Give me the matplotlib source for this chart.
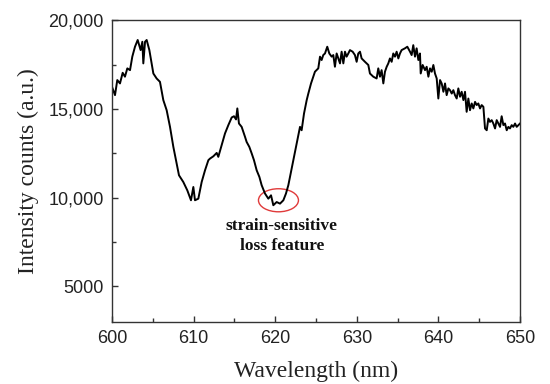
import matplotlib.pyplot as plt
from matplotlib.patches import Ellipse
from matplotlib.ticker import MultipleLocator, FixedLocator

# spectrum
wavelength = [600.0, 600.37, 600.65, 600.98, 601.31, 601.59, 601.88, 602.21, 602.49, 602.82,
              603.15, 603.51, 603.72, 603.84, 604.05, 604.25, 604.58, 604.86, 605.07, 605.47,
              605.88, 606.29, 606.70, 607.11, 607.52, 607.93, 608.21, 608.74, 609.23, 609.68,
              609.97, 610.17, 610.58, 610.99, 611.40, 611.81,
              612.01, 612.42, 612.83, 613.03, 613.44, 613.85, 614.26, 614.67, 614.95, 615.20,
              615.36, 615.56, 615.89, 616.10, 616.30, 616.50, 616.83, 617.12, 617.40, 617.73,
              618.06, 618.34, 618.75, 619.16, 619.49, 619.77, 620.18, 620.59, 621.00, 621.32,
              621.61, 621.81, 622.14, 622.43, 622.71, 623.04, 623.24, 623.53, 623.86, 624.06,
              624.39, 624.67,
              624.87, 625.28, 625.49, 625.69, 625.89, 626.10, 626.38, 626.63, 626.92, 627.12,
              627.32, 627.53, 627.73, 627.94, 628.14, 628.35, 628.55, 628.75, 628.96, 629.16,
              629.49, 629.77, 629.98, 630.18, 630.39, 630.59, 631.00, 631.41, 631.61, 632.02,
              632.43, 632.63, 632.84, 633.04, 633.25, 633.45, 633.66, 633.86, 634.06, 634.27,
              634.47, 634.68, 634.88, 635.09, 635.29, 635.49, 635.90, 636.19, 636.52, 636.72,
              636.92, 637.13, 637.33, 637.54, 637.74,
              637.83, 638.07, 638.36, 638.56, 638.77, 638.97, 639.18, 639.38, 639.58, 639.79,
              639.99, 640.20, 640.40, 640.61, 640.81, 641.01, 641.22, 641.42, 641.63, 641.83,
              642.03, 642.24, 642.44, 642.65, 642.85, 643.06, 643.26, 643.46, 643.67, 643.87,
              644.08, 644.28, 644.49, 644.69, 644.89, 645.10, 645.30, 645.51, 645.71, 645.92,
              646.12, 646.32, 646.53, 646.73, 646.94, 647.14, 647.35, 647.55, 647.75, 647.96,
              648.16, 648.37, 648.57, 648.77, 648.98, 649.18, 649.39, 649.59, 650.0]
intensity = [16250, 15780, 16630, 16440, 17040, 16820, 17290, 17190, 17950, 18510,
             18890, 18320, 18790, 17570, 18790, 18890, 18320, 17570, 17000, 16720,
             16530, 15500, 14930, 13990, 12860, 11920, 11260, 10880, 10410, 9850,
             10600, 9850, 9940, 10880, 11540, 12110,
             12200, 12330, 12520, 12300, 12960, 13620, 14090, 14520, 14590, 14410,
             15030, 14180, 13990, 13710, 13430, 13140, 12860, 12490, 12110, 11540,
             11170, 10700, 10230, 9940, 10130, 9570, 9750, 9660, 9850, 10230,
             10700, 11170, 11920, 12580, 13240, 13990, 13800, 14740, 15500, 15870,
             16440, 16820,
             17100, 17290, 17950, 17760, 18040, 18130, 18510, 18130, 17950, 18040,
             17380, 18130, 17850, 17570, 18230, 17570, 18230, 17950, 18130, 18320,
             18230, 18040, 17660, 18130, 18230, 17850, 17660, 17480, 17000, 16820,
             16720, 17290, 16820, 17190, 16440, 17100, 17380, 17570, 17850, 17660,
             18130, 17950, 18230, 17850, 18130, 18320, 18420, 18510, 18230, 18040,
             18600, 17950, 18420, 17760, 18130,
             17000, 17480, 17190, 17380, 16820, 17290, 17100, 17480, 17000, 16720,
             15590, 16630, 16440, 15970, 16440, 15780, 16160, 16060, 15870, 16060,
             15780, 15590, 16160, 15690, 15970, 15500, 15970, 14840, 15590, 14930,
             15310, 15030, 15400, 15220, 15310, 15030, 15220, 15120, 13900, 13800,
             14460, 14270, 14370, 14180, 13900, 14370, 14180, 13990, 14590, 14090,
             14180, 13800, 13990, 13900, 14090, 13990, 14180, 13990, 14180]

y_ticks = [5000, 10000, 15000, 20000]
y_labels = ['5000', '10,000', '15,000', '20,000']
x_ticks = [600, 610, 620, 630, 640, 650]

fig = plt.figure(figsize=(5.5, 3.84), dpi=100)
ax = fig.add_axes([0.2036, 0.1622, 0.7419, 0.7849])

ax.plot(wavelength, intensity, color='black', lw=1.4)

# red circle around the dip
ax.add_patch(Ellipse((620.4, 9850), 4.9, 1300, fill=False, edgecolor='#e03a3a', lw=1.0))
ax.text(620.8, 7840, 'strain-sensitive\nloss feature', ha='center', va='center',
        family='Liberation Serif', fontweight='bold', fontsize=12.5, linespacing=1.35,
        color='#111111')

ax.set_xlim(600, 650)
ax.set_ylim(3000, 20000)
ax.set_xticks(x_ticks)
ax.set_yticks(y_ticks)
ax.set_yticklabels(y_labels)
ax.xaxis.set_minor_locator(MultipleLocator(5))
ax.yaxis.set_minor_locator(FixedLocator([7500, 12500, 17500]))

for s in ax.spines.values():
    s.set_color('#333333')
    s.set_linewidth(1.0)

ax.tick_params(which='both', direction='in', top=False, right=False, colors='#333333')
ax.tick_params(which='major', length=4, width=1.0)
ax.tick_params(which='minor', length=3, width=1.0)
ax.tick_params(axis='x', pad=6)
ax.tick_params(axis='y', pad=6)
for lab in ax.get_xticklabels() + ax.get_yticklabels():
    lab.set_family('Liberation Sans')
    lab.set_fontsize(13)
    lab.set_color('#222222')

ax.set_xlabel('Wavelength (nm)', family='Liberation Serif', fontsize=17, color='#222222', labelpad=10)
ax.set_ylabel('Intensity counts (a.u.)', family='Liberation Serif', fontsize=17, color='#222222', labelpad=7)

fig.savefig('out.png', dpi=100)
